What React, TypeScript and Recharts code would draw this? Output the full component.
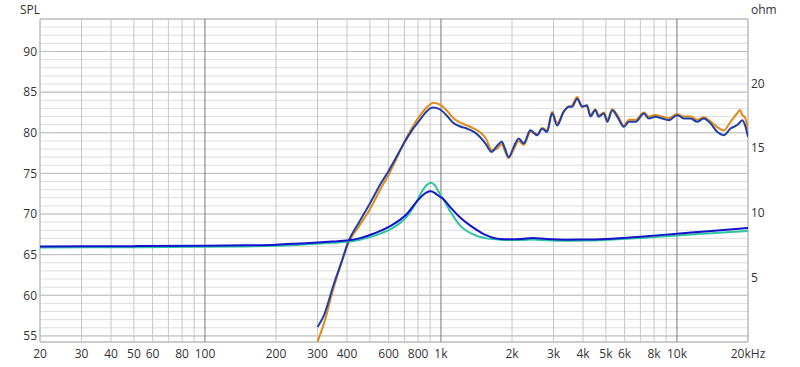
import React from 'react';
import { LineChart, Line, XAxis, YAxis, CartesianGrid, ReferenceLine, ReferenceArea } from 'recharts';

// impedance sweep (ohm)
const impFreq = [20, 50, 100, 150, 200, 250, 300, 350, 400, 450, 500, 560, 620, 670, 720, 780, 830, 870, 905, 940, 980, 1020, 1100, 1200, 1370, 1560, 1780, 2000, 2200, 2450, 2800, 3400, 4000, 5000, 7000, 10000, 14000, 20000];
const impBlue = [7.4, 7.42, 7.45, 7.48, 7.53, 7.62, 7.7, 7.78, 7.85, 8.02, 8.28, 8.64, 9.05, 9.45, 9.95, 10.75, 11.3, 11.58, 11.66, 11.55, 11.3, 11.09, 10.4, 9.67, 8.85, 8.25, 7.97, 7.95, 7.98, 8.04, 7.97, 7.92, 7.93, 7.98, 8.15, 8.38, 8.6, 8.82];
const impTeal = [7.32, 7.34, 7.37, 7.4, 7.44, 7.52, 7.6, 7.68, 7.75, 7.9, 8.12, 8.43, 8.8, 9.2, 9.75, 10.7, 11.65, 12.15, 12.33, 12.15, 11.6, 11.09, 10.05, 9.05, 8.33, 8.02, 7.92, 7.9, 7.9, 7.93, 7.88, 7.84, 7.85, 7.9, 8.04, 8.25, 8.42, 8.6];

// SPL sweep (dB)
const splFreq = [300, 320, 350, 380, 405, 450, 500, 560, 600, 650, 700, 750, 800, 850, 900, 930, 1000, 1060, 1130, 1200, 1290, 1380, 1460, 1550, 1640, 1720, 1811, 1870, 1935, 2030, 2134, 2242, 2393, 2555, 2682, 2816, 2957, 3105, 3312, 3478, 3595, 3775, 3962, 4161, 4297, 4511, 4660, 4900, 5068, 5320, 5590, 5960, 6260, 6680, 7240, 7600, 8110, 8650, 9230, 10020, 10690, 11410, 12180, 12990, 13870, 14800, 15800, 16860, 18000, 18500, 18900, 19400, 20000];
const splOrange = [54.3, 56.6, 60.8, 64.1, 66.4, 68.5, 70.6, 73.3, 74.8, 76.9, 78.9, 80.5, 81.8, 82.8, 83.5, 83.7, 83.4, 82.7, 81.8, 81.3, 80.9, 80.5, 80.1, 79.3, 77.9, 78.0, 78.6, 77.7, 76.9, 77.9, 79.0, 78.5, 80.1, 79.8, 80.6, 80.3, 82.6, 81.2, 82.6, 83.2, 83.4, 84.4, 83.3, 83.2, 82.2, 82.9, 82.1, 82.5, 81.6, 82.9, 82.2, 80.9, 81.6, 81.6, 82.5, 82.0, 82.2, 82.0, 81.8, 82.3, 82.0, 82.0, 81.6, 81.9, 81.4, 80.7, 80.3, 81.35, 82.4, 82.8, 82.2, 81.9, 80.5];
const splBlue = [56.1, 57.6, 61.2, 64.2, 66.6, 69.0, 71.3, 73.9, 75.3, 77.1, 78.8, 80.2, 81.3, 82.3, 83.0, 83.1, 82.8, 82.1, 81.2, 80.8, 80.5, 80.1, 79.5, 78.6, 77.65, 78.3, 78.9, 78.0, 77.0, 78.2, 79.3, 78.7, 80.3, 79.7, 80.5, 80.1, 82.4, 80.9, 82.6, 83.2, 83.2, 84.2, 83.2, 83.4, 82.0, 82.8, 81.96, 82.38, 81.35, 82.78, 81.96, 80.73, 81.35, 81.35, 82.38, 81.76, 81.96, 81.76, 81.55, 82.17, 81.76, 81.76, 81.35, 81.76, 81.15, 80.11, 79.7, 80.53, 80.94, 81.3, 81.55, 81.0, 79.5];

const gridFreqs = [20, 30, 40, 50, 60, 70, 80, 90, 100, 200, 300, 400, 500, 600, 700, 800, 900, 1000, 2000, 3000, 4000, 5000, 6000, 7000, 8000, 9000, 10000, 20000];
const decadeFreqs = [100, 1000, 10000];
const xTicks = [20, 30, 40, 50, 60, 80, 100, 200, 300, 400, 600, 800, 1000, 2000, 3000, 4000, 5000, 6000, 8000, 10000, 20000];
const xLabels = ['20', '30', '40', '50', '60', '80', '100', '200', '300', '400', '600', '800', '1k', '2k', '3k', '4k', '5k', '6k', '8k', '10k', '20kHz'];
const splTicks = Array.from({ length: 40 }, (_, i) => 55 + i);
const splMajor = [55, 60, 65, 70, 75, 80, 85, 90];
const ohmTicks = [5, 10, 15, 20];

const toPts = (f: number[], v: number[]) => f.map((x, i) => ({ f: x, v: v[i] }));

const font = { fontFamily: '"Open Sans", sans-serif', fontSize: 12, fill: '#333' };

export default function App() {
  return (
    <div style={{ position: 'fixed', left: 0, top: 0, width: 800, height: 367, background: '#fff' }}>
      <LineChart width={800} height={367} margin={{ top: 19, right: 0, bottom: 0, left: 0 }}>
        <CartesianGrid vertical={false} stroke="#dedede" />
        <XAxis
          dataKey="f"
          type="number"
          scale="log"
          domain={[20, 20000]}
          allowDataOverflow
          ticks={xTicks}
          tickFormatter={(t: number) => xLabels[xTicks.indexOf(t)] ?? ''}
          tickLine={false}
          axisLine={false}
          tickSize={6}
          tickMargin={1}
          height={25}
          tick={font}
        />
        <YAxis
          type="number"
          domain={[54.25, 94]}
          allowDataOverflow
          ticks={splTicks}
          interval={0}
          tickFormatter={(t: number) => (t % 5 === 0 && t <= 90 ? String(t) : '')}
          tickLine={false}
          axisLine={false}
          tickSize={3}
          tickMargin={0}
          width={40}
          tick={font}
        />
        <YAxis
          yAxisId="ohm"
          orientation="right"
          type="number"
          domain={[0, 25]}
          allowDataOverflow
          ticks={ohmTicks}
          tickLine={false}
          axisLine={false}
          tickSize={3}
          tickMargin={0}
          width={52}
          tick={{ ...font, textAnchor: 'start' }}
        />
        {splMajor.map((y) => (
          <ReferenceLine key={'h' + y} y={y} stroke="#bdbdbd" />
        ))}
        {gridFreqs.map((x) => (
          <ReferenceLine key={'v' + x} x={x} stroke={decadeFreqs.includes(x) ? '#7a7a7a' : '#c6c6c6'} />
        ))}
        <ReferenceArea x1={20} x2={20000} y1={54.25} y2={94} fill="none" stroke="#a8a8a8" />
        <Line data={toPts(splFreq, splOrange)} dataKey="v" type="monotone" stroke="#e08a1c" strokeWidth={2} dot={false} isAnimationActive={false} />
        <Line data={toPts(splFreq, splBlue)} dataKey="v" type="monotone" stroke="#1f3fa6" strokeWidth={2} dot={false} isAnimationActive={false} />
        <Line data={toPts(impFreq, impTeal)} yAxisId="ohm" dataKey="v" type="monotone" stroke="#2ec4a2" strokeWidth={2} dot={false} isAnimationActive={false} />
        <Line data={toPts(impFreq, impBlue)} yAxisId="ohm" dataKey="v" type="monotone" stroke="#1212cc" strokeWidth={2} dot={false} isAnimationActive={false} />
      </LineChart>
      <div style={{ position: 'absolute', left: 20, top: 1, fontFamily: '"Open Sans", sans-serif', fontSize: 12, color: '#333' }}>SPL</div>
      <div style={{ position: 'absolute', left: 751, top: 1, fontFamily: '"Open Sans", sans-serif', fontSize: 12, color: '#333' }}>ohm</div>
    </div>
  );
}
